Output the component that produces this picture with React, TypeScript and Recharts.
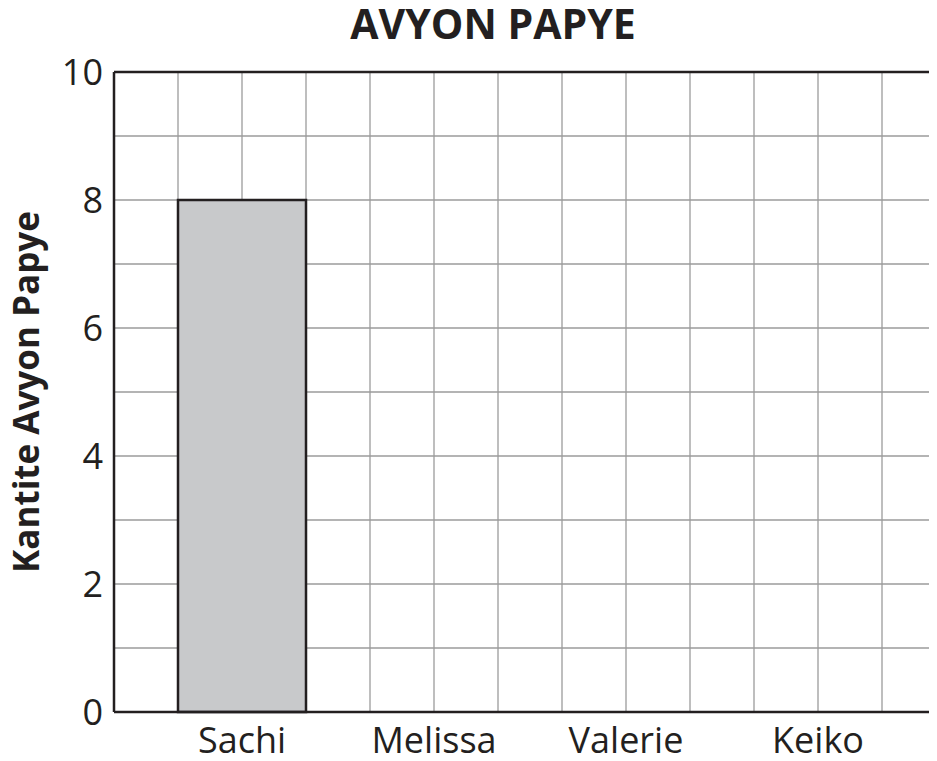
import React from 'react';
import {
  BarChart,
  Bar,
  XAxis,
  YAxis,
  CartesianGrid,
  ReferenceLine,
  Label,
} from 'recharts';

const categories = ['Sachi', 'Melissa', 'Valerie', 'Keiko'];
const planes = [8, 0, 0, 0];
const yTicks = [0, 1, 2, 3, 4, 5, 6, 7, 8, 9, 10];
const yLabelTicks = [0, 2, 4, 6, 8, 10];
const gridColumnCount = 13;

const data = categories.map((name, i) => ({ name, value: planes[i] }));

const FONT = '"Open Sans", "Noto Sans", sans-serif';
const INK = '#231f20';

const verticalGrid = ({ offset }: any) => {
  const out: number[] = [];
  for (let i = 0; i <= gridColumnCount; i++) {
    out.push(offset.left + (i * offset.width) / gridColumnCount);
  }
  return out;
};

export default function App() {
  return (
    <div style={{ position: 'relative', width: 929, height: 753, overflow: 'hidden', fontFamily: FONT }}>
      <div
        style={{
          position: 'absolute',
          top: 0,
          left: 0,
          width: 970,
          height: 40,
          textAlign: 'center',
          fontSize: 41,
          lineHeight: '31px',
          fontWeight: 700,
          color: INK,
          zIndex: 2,
        }}
      >
        AVYON PAPYE
      </div>
      <BarChart
        width={940}
        height={753}
        data={data}
        margin={{ top: 64, right: 2, bottom: 4, left: 0 }}
        barSize={128}
      >
        <CartesianGrid
          stroke="#9b9b9b"
          strokeWidth={1.3}
          verticalCoordinatesGenerator={verticalGrid}
        />
        <XAxis
          dataKey="name"
          type="category"
          padding={{ left: 32, right: 32 }}
          tickLine={false}
          tickSize={0}
          tickMargin={15}
          height={45}
          axisLine={{ stroke: INK, strokeWidth: 2.5 }}
          tick={{ fill: INK, fontSize: 36, fontFamily: FONT }}
          interval={0}
        />
        <YAxis
          type="number"
          domain={[0, 10]}
          ticks={yTicks}
          interval={0}
          width={106}
          tickLine={false}
          tickSize={0}
          tickMargin={11}
          axisLine={{ stroke: INK, strokeWidth: 2.5 }}
          tick={{ fill: INK, fontSize: 36, fontFamily: FONT }}
          tickFormatter={(v: number) => (yLabelTicks.includes(v) ? String(v) : '')}
        >
          <Label
            value="Kantite Avyon Papye"
            angle={-90}
            position="insideLeft"
            offset={19}
            style={{ textAnchor: 'middle', fontSize: 35, fontWeight: 700, fill: INK, fontFamily: FONT }}
          />
        </YAxis>
        <ReferenceLine y={10} stroke={INK} strokeWidth={2.5} />
        <Bar dataKey="value" fill="#c8c9cb" stroke={INK} strokeWidth={2.5} isAnimationActive={false} />
      </BarChart>
    </div>
  );
}
